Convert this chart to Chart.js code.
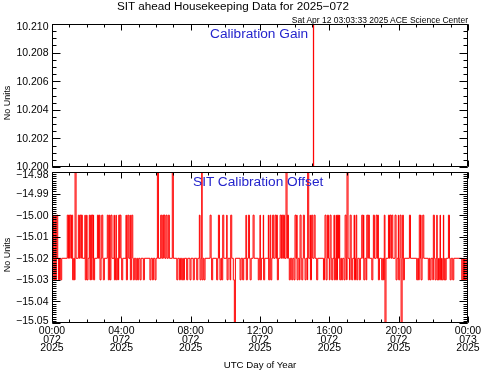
<!DOCTYPE html>
<html><head><meta charset="utf-8">
<script src="https://cdn.jsdelivr.net/npm/chart.js@4.4.0/dist/chart.umd.min.js"></script>
<style>
html,body{margin:0;padding:0;background:#fff;}
#wrap{position:relative;width:481px;height:370px;overflow:hidden;font-family:'Liberation Sans',Arial,sans-serif;background:#fff;}
canvas{position:absolute;left:0;top:0;}
.t{position:absolute;white-space:nowrap;color:#000;}
.blue{color:#2424cc;}
.rot{transform:translate(-50%,-50%) rotate(-90deg);}
</style></head><body>
<div id="wrap">
<canvas id="c1" width="481" height="370"></canvas>
<canvas id="c2" width="481" height="370"></canvas>
<div class="t" style="left:117px;top:0px;font-size:11.7px;line-height:11.7px;">SIT ahead Housekeeping Data for 2025−072</div>
<div class="t" style="right:13px;top:15.5px;font-size:8.5px;line-height:8.5px;">Sat Apr 12 03:03:33 2025 ACE Science Center</div>
<div class="t blue" style="left:210px;top:26.6px;font-size:13.7px;line-height:13.7px;">Calibration Gain</div>
<div class="t blue" style="left:193px;top:175px;font-size:13.7px;line-height:13.7px;">SIT Calibration Offset</div>
<div class="t" style="left:260px;top:360.3px;font-size:9.7px;line-height:9.7px;transform:translateX(-50%);">UTC Day of Year</div>
<div class="t rot" style="left:7px;top:103px;font-size:9px;line-height:9px;">No Units</div>
<div class="t rot" style="left:7px;top:255px;font-size:9px;line-height:9px;">No Units</div>
</div>
<script>
// ---------- data (hours of day 072) ----------
const xTickHours = [0, 4, 8, 12, 16, 20, 24];
const xMinorHours = [0,1,2,3,4,5,6,7,8,9,10,11,12,13,14,15,16,17,18,19,20,21,22,23,24];
const xTickTimes = ['00:00', '04:00', '08:00', '12:00', '16:00', '20:00', '00:00'];
const xTickDays  = ['072', '072', '072', '072', '072', '072', '073'];
const xTickYears = ['2025', '2025', '2025', '2025', '2025', '2025', '2025'];

const gainTickValues = [10.200, 10.202, 10.204, 10.206, 10.208, 10.210];
const gainTickLabels = ['10.200', '10.202', '10.204', '10.206', '10.208', '10.210'];
// calibration gain: off-scale except one crossing near 15:05
const gainHours  = [0, 15.08, 15.095, 24];
const gainValues = [10.19, 10.22, 10.19, 10.19];

const offsetTickValues = [-15.05, -15.04, -15.03, -15.02, -15.01, -15.00, -14.99, -14.98];
const offsetTickLabels = ['\u221215.05', '\u221215.04', '\u221215.03', '\u221215.02', '\u221215.01', '\u221215.00', '\u221214.99', '\u221214.98'];

const offsetBase = -15.02;
const offsetHighValue = -15.00;
const offsetLowValue = -15.03;
const offsetSpikeUpValue = -14.97;
const offsetSpikeDownValue = -15.06;
const offsetHighHours = [0.08,0.17,0.27,0.88,0.96,1.04,1.13,1.52,1.62,1.69,1.90,2.0,2.15,2.23,2.31,2.38,2.62,2.73,2.87,3.19,3.31,3.40,3.58,3.69,3.85,3.92,4.27,4.37,4.5,4.6,6.27,6.39,6.46,6.58,6.71,8.5,9.12,9.6,9.85,10.08,10.31,11.19,11.33,11.6,
  12.0,12.19,12.48,12.58,12.73,12.87,12.96,13.16,13.25,13.35,13.58,14.02,14.12,14.31,14.5,14.89,14.98,15.12,15.75,15.89,16.04,16.27,16.39,16.47,16.58,16.91,17.2,17.43,17.54,17.87,17.97,18.16,18.25,18.54,18.7,18.79,19.17,19.41,19.5,19.6,19.79,19.98,20.08,20.23,20.62,21.19,21.27,21.39,22.0,22.2,22.39,22.58,22.87];
const offsetLowHours = [0.08,0.17,0.37,0.50,1.19,1.29,1.90,2.0,2.19,2.29,2.38,2.77,2.96,3.25,3.35,3.58,3.69,3.83,4.02,4.27,4.5,4.69,4.83,4.94,5.08,5.27,5.65,5.79,5.94,7.2,7.35,7.48,7.58,7.77,7.96,8.15,8.35,8.54,8.66,8.77,9.21,9.5,9.69,9.79,10.08,10.27,10.46,10.85,11.0,11.19,11.43,11.9,
  12.0,12.19,12.48,12.62,13.0,13.69,13.83,13.96,14.12,14.27,14.41,14.6,14.73,14.89,15.27,15.66,15.81,16.0,16.14,16.27,16.39,16.58,16.71,16.85,17.0,17.16,17.29,17.43,17.58,17.73,17.97,18.12,18.45,18.83,19.02,19.12,19.85,19.98,20.27,21.04,21.14,21.27,21.71,21.81,21.97,22.1,22.2,22.29,22.39,22.49,22.58,22.68,22.97,23.12,23.64,23.74,23.83,23.94];
const offsetSpikeUpHours = [1.33, 6.08, 6.94, 8.64, 13.5, 14.73, 17.02];
const offsetSpikeDownHours = [10.52, 19.21, 20.14];

// ---------- build library tables ----------
function buildOffsetPoints() {
  const ev = [];
  offsetHighHours.forEach(h => ev.push([h, offsetHighValue]));
  offsetLowHours.forEach(h => ev.push([h, offsetLowValue]));
  offsetSpikeUpHours.forEach(h => ev.push([h, offsetSpikeUpValue]));
  offsetSpikeDownHours.forEach(h => ev.push([h, offsetSpikeDownValue]));
  ev.sort((a, b) => a[0] - b[0]);
  const W = 0.06;
  const pts = [{x: 0, y: offsetBase}];
  for (let i = 0; i < ev.length; i++) {
    let t = ev[i][0];
    const last = pts[pts.length - 1].x;
    if (t <= last) t = last + 0.02;
    pts.push({x: t, y: ev[i][1]});
    const next = i + 1 < ev.length ? ev[i + 1][0] : 24;
    if (next > t + W) pts.push({x: t + W, y: offsetBase});
  }
  pts.push({x: 24, y: offsetBase});
  return pts;
}
const gainPoints = gainHours.map((h, i) => ({x: h, y: gainValues[i]}));

function range(a, b, step) { const r = []; const n = Math.round((b - a) / step); for (let i = 0; i <= n; i++) r.push(a + i * step); return r; }

function makeFrameTicks(yMajor, yMinor, yLabels, firstLabelShift) {
  return {
    id: 'frameTicks',
    afterDatasetsDraw(chart) {
      const ctx = chart.ctx;
      const a = chart.chartArea;
      const xs = chart.scales.x, ys = chart.scales.y;
      const L = Math.round(a.left) + 0.5, R = Math.round(a.right) - 0.5, T = Math.round(a.top) + 0.5, B = Math.round(a.bottom) - 0.5;
      ctx.save();
      ctx.lineWidth = 1;
      ctx.strokeStyle = '#000';
      // frame
      ctx.beginPath();
      ctx.moveTo(L, T); ctx.lineTo(R, T); ctx.lineTo(R, B); ctx.lineTo(L, B); ctx.closePath();
      ctx.stroke();
      // y ticks (inward, both sides)
      ctx.beginPath();
      const ytick = (v, len) => {
        const p = Math.round(ys.getPixelForValue(v)) + 0.5;
        ctx.moveTo(L, p); ctx.lineTo(L + len, p);
        ctx.moveTo(R, p); ctx.lineTo(R - len, p);
      };
      yMinor.forEach(v => ytick(v, 4));
      yMajor.forEach(v => ytick(v, 8));
      ctx.stroke();
      // x ticks (inward, top and bottom)
      ctx.beginPath();
      const xtick = (v, len) => {
        const p = Math.round(xs.getPixelForValue(v)) + 0.5;
        ctx.moveTo(p, B); ctx.lineTo(p, B - len);
        ctx.moveTo(p, T); ctx.lineTo(p, T + len);
      };
      for (let i = 0; i < xMinorHours.length; i++) xtick(xMinorHours[i], 3);
      for (let i = 0; i < xTickHours.length; i++) xtick(xTickHours[i], 6);
      ctx.stroke();
      // y tick labels
      ctx.fillStyle = '#000';
      ctx.font = "10.5px 'Liberation Sans', Arial, sans-serif";
      ctx.textAlign = 'right';
      ctx.textBaseline = 'middle';
      yMajor.forEach((v, i) => {
        let p = ys.getPixelForValue(v) + 0.5;
        if (i === yMajor.length - 1) p += 2.5;
        if (i === 0) p += firstLabelShift;
        ctx.fillText(yLabels[i], 48.5, p);
      });
      ctx.restore();
    }
  };
}

Chart.defaults.font.family = "'Liberation Sans', Arial, sans-serif";
Chart.defaults.color = '#000';

const lineDataset = (data) => ({
  data, borderColor: '#ff0000', borderWidth: 1, pointRadius: 0, stepped: true,
  tension: 0, clip: 0, fill: false
});

new Chart(document.getElementById('c1'), {
  type: 'line',
  data: {datasets: [lineDataset(gainPoints)]},
  plugins: [makeFrameTicks(gainTickValues, range(10.2, 10.21, 0.0005), gainTickLabels, -0.5)],
  options: {
    responsive: false, animation: false, events: [],
    layout: {autoPadding: false, padding: {left: 0, right: 13, top: 24, bottom: 203}},
    plugins: {legend: {display: false}, tooltip: {enabled: false}},
    scales: {
      x: {type: 'linear', min: 0, max: 24, bounds: 'data', display: false},
      y: {type: 'linear', min: 10.2, max: 10.21, bounds: 'data',
        grid: {display: false, drawTicks: false}, border: {display: false},
        afterBuildTicks: s => { s.ticks = gainTickValues.map(v => ({value: v})); },
        afterFit: s => { s.width = 52; s.paddingTop = 0; s.paddingBottom = 0; },
        ticks: {display: false}}
    }
  }
});

new Chart(document.getElementById('c2'), {
  type: 'line',
  data: {datasets: [lineDataset(buildOffsetPoints())]},
  plugins: [makeFrameTicks(offsetTickValues, range(-15.05, -14.98, 0.001), offsetTickLabels, -2.5)],
  options: {
    responsive: false, animation: false, events: [],
    layout: {autoPadding: false, padding: {left: 0, right: 13, top: 172, bottom: 0}},
    plugins: {legend: {display: false}, tooltip: {enabled: false}},
    scales: {
      x: {type: 'linear', min: 0, max: 24, bounds: 'data',
        grid: {display: false, drawTicks: false}, border: {display: false},
        afterBuildTicks: s => { s.ticks = xTickHours.map(v => ({value: v})); },
        afterFit: s => { s.height = 47; s.paddingLeft = 0; s.paddingRight = 0; },
        ticks: {padding: 4, maxRotation: 0, autoSkip: false, font: {size: 10.5, lineHeight: 0.82},
          callback: (v, i) => [xTickTimes[i], xTickDays[i], xTickYears[i]]}},
      y: {type: 'linear', min: -15.05, max: -14.98, bounds: 'data',
        grid: {display: false, drawTicks: false}, border: {display: false},
        afterBuildTicks: s => { s.ticks = offsetTickValues.map(v => ({value: v})); },
        afterFit: s => { s.width = 52; s.paddingTop = 0; s.paddingBottom = 0; },
        ticks: {display: false}}
    }
  }
});
</script>
</body></html>
